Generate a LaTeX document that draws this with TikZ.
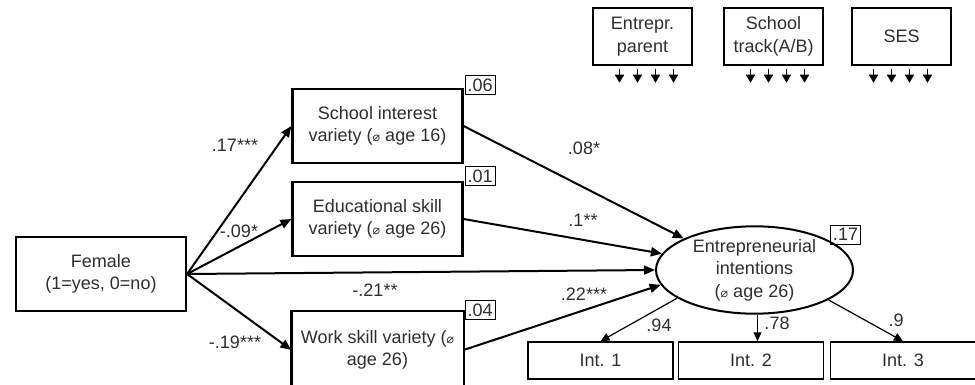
\documentclass[tikz,border=0pt]{standalone}
\usepackage{fontspec}
\setmainfont{Liberation Sans}
\newfontfamily\dejavu{DejaVu Sans}
\usetikzlibrary{arrows.meta,shapes.geometric}
\newcommand{\diam}{{\dejavu\fontsize{12.5}{12.5}\selectfont ⌀}}
\begin{document}
\begin{tikzpicture}[x=1pt,y=-1pt,
  font=\fontsize{18}{22.5}\selectfont,
  every node/.style={text=black!82},
  mainbox/.style={draw, line width=2.2pt, minimum width=170pt, minimum height=74pt, align=center, inner sep=0pt},
  topbox/.style={draw, line width=1.5pt, minimum width=99pt, minimum height=57pt, align=center, inner sep=0pt},
  intbox/.style={draw, line width=1.5pt, minimum width=145pt, minimum height=37pt, inner sep=0pt},
  rbox/.style={draw, line width=0.9pt, inner sep=2.5pt, minimum height=19pt},
  path/.style={line width=2pt, -{Triangle[length=11pt,width=9pt]}},
  load/.style={line width=1.2pt, -{Triangle[length=9pt,width=8pt]}},
  small/.style={line width=1.6pt, -{Triangle[length=8pt,width=9pt]}},
  lab/.style={inner sep=0pt}]
\useasboundingbox (0,0) rectangle (975,385);

% top covariates
\node[topbox] (ep) at (642.5,36.5) {Entrepr.\\parent};
\node[topbox] (st) at (773.5,36.5) {School\\track(A/B)};
\node[topbox] (ses) at (901.5,36.5) {SES};
\foreach \dx in {-23,-5,13,31} {
  \draw[small] ([xshift=\dx pt]ep.south) ++(0,3) -- ++(0,14);
  \draw[small] ([xshift=\dx pt]st.south) ++(0,3) -- ++(0,14);
}
\foreach \dx in {-28,-10,8,26} {
  \draw[small] ([xshift=\dx pt]ses.south) ++(0,3) -- ++(0,14);
}

% main boxes
\node[mainbox] (fem) at (101,274) {Female\\(1=yes, 0=no)};
\node[mainbox] (si) at (377.5,126) {School interest\\variety (\diam{} age 16)};
\node[mainbox] (edu) at (377.5,219) {Educational skill\\variety (\diam{} age 26)};
\node[mainbox, draw=none, minimum height=76pt] (work) at (377.5,350) {Work skill variety (\diam\\age 26)};
\draw[line width=2.2pt] (work.south west) -- (work.north west) -- (work.north east) -- (work.south east);

% R2 boxes
\node[rbox, anchor=south west] (r1) at ([xshift=1pt,yshift=-7pt]si.north east) {.06};
\node[rbox, anchor=south west] (r2) at ([xshift=1pt,yshift=-5pt]edu.north east) {.01};
\node[rbox, anchor=south west] (r3) at ([xshift=1pt,yshift=-9pt]work.north east) {.04};

% latent
\node[ellipse, draw, line width=2pt, minimum width=197pt, minimum height=86pt, align=center, inner sep=0pt] (ei) at (754.5,270) {Entrepreneurial\\intentions\\(\diam{} age 26)};
\node[rbox] (r4) at (845.5,234.5) {.17};

% indicators
\node[intbox] (i1) at (600.5,360.5) {Int. 1};
\node[intbox] (i2) at (751,360.5) {Int. 2};
\node[intbox] (i3) at (903,360.5) {Int. 3};

% paths
\draw[path] (fem.east) -- (si.west);
\draw[path] (fem.east) -- (edu.west);
\draw[path] (fem.east) -- (work.west);
\draw[path] (fem.east) -- (ei.180);
\draw[path] (si.east) -- (ei.156);
\draw[path] (edu.east) -- (ei.170);
\draw[path] (work.east) -- (ei.189);

\draw[load] (ei.200) -- (i1.north);
\draw[load] ([xshift=3pt]ei.south) -- ([xshift=3pt]ei.south |- i2.north);
\draw[load] (ei.-22) -- (i3.north);

% labels
\node[lab] (l1) at (235,145) {.17***};
\node[lab] (l2) at (239,231) {-.09*};
\node[lab] (l3) at (235,342) {-.19***};
\node[lab] (l4) at (375,290) {-.21**};
\node[lab] (l5) at (584,148) {.08*};
\node[lab] (l6) at (583,220) {.1**};
\node[lab] (l7) at (584,294) {.22***};
\node[lab] (l8) at (659,325) {.94};
\node[lab] (l9) at (777,323) {.78};
\node[lab] (l10) at (896,320) {.9};
\end{tikzpicture}
\end{document}
